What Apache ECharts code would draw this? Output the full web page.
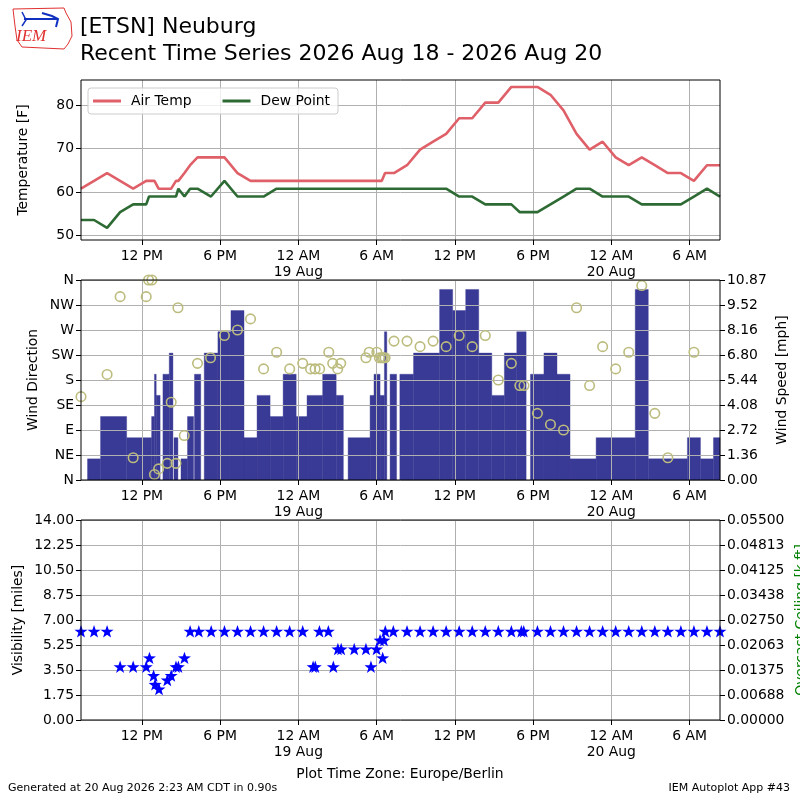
<!DOCTYPE html>
<html><head><meta charset="utf-8">
<script src="https://cdn.jsdelivr.net/npm/echarts@6/dist/echarts.min.js"></script>
<style>html,body{margin:0;padding:0;background:#fff}#c{width:800px;height:800px}</style>
</head><body><div id="c"></div>
<script>
// ---------------- data ----------------
const tempTimes = [
 '2026-08-18 07:20','2026-08-18 08:20','2026-08-18 09:20','2026-08-18 10:20','2026-08-18 11:20','2026-08-18 12:20',
 '2026-08-18 12:33','2026-08-18 12:46','2026-08-18 12:58','2026-08-18 13:17','2026-08-18 13:57','2026-08-18 14:15',
 '2026-08-18 14:37','2026-08-18 14:48','2026-08-18 15:16','2026-08-18 15:42','2026-08-18 16:16','2026-08-18 17:18',
 '2026-08-18 18:20','2026-08-18 19:20','2026-08-18 20:20','2026-08-18 21:20','2026-08-18 22:20','2026-08-18 23:20',
 '2026-08-19 00:20','2026-08-19 00:56','2026-08-19 01:17','2026-08-19 01:38','2026-08-19 02:20','2026-08-19 02:38',
 '2026-08-19 03:01','2026-08-19 03:15','2026-08-19 04:20','2026-08-19 05:11','2026-08-19 05:26','2026-08-19 06:01',
 '2026-08-19 06:13','2026-08-19 06:24','2026-08-19 06:31','2026-08-19 06:39','2026-08-19 07:20','2026-08-19 08:20',
 '2026-08-19 09:20','2026-08-19 10:20','2026-08-19 11:20','2026-08-19 12:20','2026-08-19 13:20','2026-08-19 14:20',
 '2026-08-19 15:20','2026-08-19 16:20','2026-08-19 16:59','2026-08-19 17:18','2026-08-19 18:20','2026-08-19 19:20',
 '2026-08-19 20:20','2026-08-19 21:20','2026-08-19 22:20','2026-08-19 23:20',
 '2026-08-20 00:20','2026-08-20 01:20','2026-08-20 02:20','2026-08-20 03:20','2026-08-20 04:20','2026-08-20 05:20',
 '2026-08-20 06:20','2026-08-20 07:20','2026-08-20 08:20'
];
const airTemp = [
 60.8,62.6,64.4,62.6,60.8,62.6, 62.6,62.6,62.6,60.8,60.8,60.8, 62.6,62.6,64.4,66.2,68.0,68.0,
 68.0,64.4,62.6,62.6,62.6,62.6,
 62.6,62.6,62.6,62.6,62.6,62.6, 62.6,62.6,62.6,62.6,62.6,62.6, 62.6,62.6,62.6,64.4,64.4,66.2,
 69.8,71.6,73.4,77.0,77.0,80.6, 80.6,84.2,84.2,84.2,84.2,82.4, 78.8,73.4,69.8,71.6,
 68.0,66.2,68.0,66.2,64.4,64.4, 62.6,66.2,66.2
];
const dewPoint = [
 53.6,53.6,51.8,55.4,57.2,57.2, 59.0,59.0,59.0,59.0,59.0,59.0, 59.0,60.8,59.0,60.8,60.8,59.0,
 62.6,59.0,59.0,59.0,60.8,60.8,
 60.8,60.8,60.8,60.8,60.8,60.8, 60.8,60.8,60.8,60.8,60.8,60.8, 60.8,60.8,60.8,60.8,60.8,60.8,
 60.8,60.8,60.8,59.0,59.0,57.2, 57.2,57.2,55.4,55.4,55.4,57.2, 59.0,60.8,60.8,59.0,
 59.0,59.0,57.2,57.2,57.2,57.2, 59.0,60.8,59.0
];
// wind speed [mph]: each value holds from its time until the next listed time
const windStepTimes = [
 '2026-08-18 07:20','2026-08-18 07:50','2026-08-18 08:50','2026-08-18 10:50','2026-08-18 12:45','2026-08-18 12:58',
 '2026-08-18 13:06','2026-08-18 13:24','2026-08-18 13:37','2026-08-18 14:06','2026-08-18 14:23','2026-08-18 14:28',
 '2026-08-18 14:46','2026-08-18 15:00','2026-08-18 15:30','2026-08-18 15:58','2026-08-18 16:02','2026-08-18 16:31',
 '2026-08-18 16:47','2026-08-18 17:50','2026-08-18 18:50','2026-08-18 19:50','2026-08-18 20:50','2026-08-18 21:50',
 '2026-08-18 22:50','2026-08-18 23:50',
 '2026-08-19 00:40','2026-08-19 01:52','2026-08-19 02:54','2026-08-19 03:27','2026-08-19 03:49','2026-08-19 05:30',
 '2026-08-19 05:48','2026-08-19 06:16','2026-08-19 06:36','2026-08-19 06:47','2026-08-19 07:02','2026-08-19 07:32',
 '2026-08-19 07:47','2026-08-19 08:50','2026-08-19 10:50','2026-08-19 11:50','2026-08-19 12:50','2026-08-19 13:50',
 '2026-08-19 14:50','2026-08-19 15:48','2026-08-19 16:45','2026-08-19 17:28','2026-08-19 17:48','2026-08-19 18:50',
 '2026-08-19 19:50','2026-08-19 20:50','2026-08-19 22:50',
 '2026-08-20 01:50','2026-08-20 02:50','2026-08-20 05:50','2026-08-20 06:50','2026-08-20 07:50','2026-08-20 08:50'
];
const windSpeedMph = [
 0,1.15,3.45,2.30,3.45,5.75, 4.60,0,5.75,6.90,0,2.30, 0,1.15,3.45,0,5.75,0,
 6.90,8.06,9.21,2.30,4.60,3.45, 5.75,3.45,
 4.60,5.75,4.60,0,2.30,4.60, 5.75,4.60,8.06,0,5.75,0, 5.75,6.90,10.36,9.21,10.36,6.90,
 4.60,6.90,8.06,0,5.75,6.90, 5.75,1.15,2.30,
 10.36,1.15,2.30,1.15,2.30,null
];
const dirTimes = [
 '2026-08-18 07:20','2026-08-18 09:20','2026-08-18 10:20','2026-08-18 11:20','2026-08-18 12:20','2026-08-18 12:31',
 '2026-08-18 12:46','2026-08-18 12:58','2026-08-18 13:17','2026-08-18 13:57','2026-08-18 14:15','2026-08-18 14:37',
 '2026-08-18 14:46','2026-08-18 15:15','2026-08-18 16:16','2026-08-18 17:16','2026-08-18 18:20','2026-08-18 19:20',
 '2026-08-18 20:20','2026-08-18 21:20','2026-08-18 22:20','2026-08-18 23:20',
 '2026-08-19 00:20','2026-08-19 00:56','2026-08-19 01:17','2026-08-19 01:38','2026-08-19 02:20','2026-08-19 02:38',
 '2026-08-19 03:01','2026-08-19 03:15','2026-08-19 05:11','2026-08-19 05:26','2026-08-19 06:01','2026-08-19 06:13',
 '2026-08-19 06:24','2026-08-19 06:31','2026-08-19 06:39','2026-08-19 07:20','2026-08-19 08:20','2026-08-19 09:20',
 '2026-08-19 10:20','2026-08-19 11:20','2026-08-19 12:20','2026-08-19 13:20','2026-08-19 14:20','2026-08-19 15:20',
 '2026-08-19 16:20','2026-08-19 16:59','2026-08-19 17:18','2026-08-19 18:20','2026-08-19 19:20','2026-08-19 20:20',
 '2026-08-19 21:20','2026-08-19 22:20','2026-08-19 23:20',
 '2026-08-20 00:20','2026-08-20 01:20','2026-08-20 02:20','2026-08-20 03:20','2026-08-20 04:20','2026-08-20 06:20'
];
const windDir = [
 150,190,330,40,330,360, 360,10,20,30,140,30, 310,80,210,220,260,270, 290,200,230,200,
 210,200,200,200,230,210, 200,210,220,230,230,220, 220,220,220,250,250,240,
 250,240,260,240,260,180, 210,170,170,120,100,90, 310,170,240,
 200,230,350,120,40,230
];
const visTimes = [
 '2026-08-18 07:20','2026-08-18 08:20','2026-08-18 09:20','2026-08-18 10:20','2026-08-18 11:20','2026-08-18 12:20',
 '2026-08-18 12:35','2026-08-18 12:54','2026-08-18 13:01','2026-08-18 13:19','2026-08-18 13:57','2026-08-18 14:15',
 '2026-08-18 14:37','2026-08-18 14:48','2026-08-18 15:16','2026-08-18 15:42','2026-08-18 16:22','2026-08-18 17:19',
 '2026-08-18 18:20','2026-08-18 19:20','2026-08-18 20:20','2026-08-18 21:20','2026-08-18 22:20','2026-08-18 23:20',
 '2026-08-19 00:20','2026-08-19 01:08','2026-08-19 01:18','2026-08-19 01:37','2026-08-19 02:18','2026-08-19 02:41',
 '2026-08-19 03:02','2026-08-19 03:17','2026-08-19 04:17','2026-08-19 05:11','2026-08-19 05:34','2026-08-19 06:00',
 '2026-08-19 06:16','2026-08-19 06:28','2026-08-19 06:34','2026-08-19 06:40','2026-08-19 07:17','2026-08-19 08:20',
 '2026-08-19 09:20','2026-08-19 10:20','2026-08-19 11:20','2026-08-19 12:20','2026-08-19 13:20','2026-08-19 14:20',
 '2026-08-19 15:20','2026-08-19 16:20','2026-08-19 17:06','2026-08-19 17:17','2026-08-19 18:20','2026-08-19 19:20',
 '2026-08-19 20:20','2026-08-19 21:20','2026-08-19 22:20','2026-08-19 23:20',
 '2026-08-20 00:20','2026-08-20 01:20','2026-08-20 02:20','2026-08-20 03:20','2026-08-20 04:20','2026-08-20 05:20',
 '2026-08-20 06:20','2026-08-20 07:20','2026-08-20 08:20'
];
const visibility = [
 6.21,6.21,6.21,3.73,3.73,3.73, 4.35,3.11,2.49,2.17,2.80,3.11, 3.73,3.73,4.35,6.21,6.21,6.21,
 6.21,6.21,6.21,6.21,6.21,6.21,
 6.21,3.73,3.73,6.21,6.21,3.73, 4.97,4.97,4.97,4.97,3.73,4.97, 5.59,4.35,5.59,6.21,6.21,6.21,
 6.21,6.21,6.21,6.21,6.21,6.21, 6.21,6.21,6.21,6.21,6.21,6.21, 6.21,6.21,6.21,6.21,
 6.21,6.21,6.21,6.21,6.21,6.21, 6.21,6.21,6.21
];
const xRange = ['2026-08-18 07:20','2026-08-20 08:20'];
const xTickTimes = ['2026-08-18 12:00','2026-08-18 18:00','2026-08-19 00:00','2026-08-19 06:00',
                    '2026-08-19 12:00','2026-08-19 18:00','2026-08-20 00:00','2026-08-20 06:00'];
const xTickLabels = ['12 PM','6 PM','12 AM\n19 Aug','6 AM','12 PM','6 PM','12 AM\n20 Aug','6 AM'];
const tempRange = [49.0, 85.8];
const tempTicks = [50,60,70,80];
const dirTicks = [0,45,90,135,180,225,270,315,360];
const dirLabels = ['N','NE','E','SE','S','SW','W','NW','N'];
const windMax = 10.8749;
const windLabels = ['0.00','1.36','2.72','4.08','5.44','6.80','8.16','9.52','10.87'];
const visTicks = [0,1.75,3.5,5.25,7,8.75,10.5,12.25,14];
const visLabels = ['0.00','1.75','3.50','5.25','7.00','8.75','10.50','12.25','14.00'];
const ceilMax = 0.055;
const ceilLabels = ['0.00000','0.00688','0.01375','0.02063','0.02750','0.03438','0.04125','0.04813','0.05500'];

// ---------------- helpers ----------------
function T(s){const m=s.match(/(\d+)-(\d+)-(\d+) (\d+):(\d+)/);return Date.UTC(+m[1],+m[2]-1,+m[3],+m[4],+m[5]);}
const xMin=T(xRange[0]), xMax=T(xRange[1]);
const xTicks=xTickTimes.map(T);
const windTicks=windLabels.map((_,i)=>windMax*i/8);
const ceilTicks=ceilLabels.map((_,i)=>ceilMax*i/8);
const FONT='DejaVu Sans';
const FS=13.9;
const RED='#df6068', GREEN='#2e6b34', BAR='#393996', OLIVE='#bcbc7e';

function xAxisFor(gi,extra){
  return Object.assign({type:'value',gridIndex:gi,min:xMin,max:xMax,
    axisLine:{show:false},
    axisTick:{show:true,inside:false,length:5,customValues:xTicks,lineStyle:{color:'#000',width:1}},
    axisLabel:{customValues:xTicks,color:'#000',fontFamily:FONT,fontSize:FS,lineHeight:16,margin:8,
      formatter:v=>{const i=xTicks.indexOf(v);return i>=0?xTickLabels[i]:'';}},
    splitLine:{show:true,lineStyle:{color:'#b0b0b0',width:1}}},extra||{});
}
function yAxisFor(gi,pos,min,max,ticks,labels,name,nameGap,extra){
  return Object.assign({type:'value',gridIndex:gi,position:pos,min:min,max:max,
    name:name,nameLocation:'middle',nameGap:nameGap,nameRotate:90,nameMoveOverlap:false,
    nameTextStyle:{fontFamily:FONT,fontSize:FS,color:'#000'},
    axisLine:{show:false},
    axisTick:{show:true,inside:false,length:5,customValues:ticks,lineStyle:{color:'#000',width:1}},
    axisLabel:{customValues:ticks,color:'#000',fontFamily:FONT,fontSize:FS,margin:7,
      formatter:v=>{let i=-1;ticks.forEach((t,k)=>{if(Math.abs(t-v)<1e-9*Math.max(1,Math.abs(t))+1e-12)i=k;});return i>=0?labels[i]:'';}},
    splitLine:{show:pos==='left',lineStyle:{color:'#b0b0b0',width:1}}},extra||{});
}

const tempData=tempTimes.map((t,i)=>[T(t),airTemp[i]]);
const dewData=tempTimes.map((t,i)=>[T(t),dewPoint[i]]);
const windBars=[];
for(let i=0;i<windStepTimes.length-1;i++){
  windBars.push([T(windStepTimes[i]),T(windStepTimes[i+1]),windSpeedMph[i]]);
}
const dirData=dirTimes.map((t,i)=>[T(t),windDir[i]]);
const visData=visTimes.map((t,i)=>[T(t),visibility[i]]);

const STAR='path://M0,-10L2.351,-3.236L9.511,-3.09L3.804,1.236L5.878,8.09L0,4L-5.878,8.09L-3.804,1.236L-9.511,-3.09L-2.351,-3.236Z';

const grids=[
  {left:81,right:80,top:80,height:160},
  {left:81,right:80,top:280,height:200},
  {left:81,right:80,top:520,height:200}
].map(g=>Object.assign(g,{show:true,borderColor:'#000',borderWidth:1,backgroundColor:'transparent',z:5}));

const chart=echarts.init(document.getElementById('c'),null,{renderer:'canvas'});
chart.setOption({
  animation:false,
  backgroundColor:'#fff',
  textStyle:{fontFamily:FONT},
  grid:grids,
  legend:{show:true,left:88,top:88,orient:'horizontal',z:6,
    data:['Air Temp','Dew Point'],icon:'rect',itemWidth:28,itemHeight:3,itemGap:31,
    padding:[6,8,6,5],borderColor:'#cccccc',borderWidth:1,borderRadius:3,backgroundColor:'rgba(255,255,255,0.8)',
    textStyle:{fontFamily:FONT,fontSize:FS,color:'#000',padding:[0,0,0,5]}},
  xAxis:[xAxisFor(0),xAxisFor(1,{z:3}),xAxisFor(2)],
  yAxis:[
    yAxisFor(0,'left',tempRange[0],tempRange[1],tempTicks,tempTicks.map(String),'Temperature [F]',51),
    yAxisFor(1,'left',0,360,dirTicks,dirLabels,'Wind Direction',41,{z:3}),
    yAxisFor(1,'right',0,windMax,windTicks,windLabels,'Wind Speed [mph]',55,{z:3}),
    yAxisFor(2,'left',0,14,visTicks,visLabels,'Visibility [miles]',56),
    yAxisFor(2,'right',0,ceilMax,ceilTicks,ceilLabels,'',73)
  ],
  series:[
    {name:'Air Temp',type:'line',xAxisIndex:0,yAxisIndex:0,data:tempData,showSymbol:false,symbol:'none',
     lineStyle:{color:RED,width:2.6},itemStyle:{color:RED},clip:true,z:3},
    {name:'Dew Point',type:'line',xAxisIndex:0,yAxisIndex:0,data:dewData,showSymbol:false,symbol:'none',
     lineStyle:{color:GREEN,width:2.6},itemStyle:{color:GREEN},clip:true,z:3},
    {name:'Wind Speed',type:'custom',xAxisIndex:1,yAxisIndex:2,data:windBars,encode:{x:[0,1],y:2},z:2,
     renderItem:function(params,api){
       const v=api.value(2);
       if(!v) return null;
       const p0=api.coord([api.value(0),v]);
       const p1=api.coord([api.value(1),0]);
       const cs=params.coordSys;
       const r=echarts.graphic.clipRectByRect({x:p0[0],y:p0[1],width:p1[0]-p0[0],height:p1[1]-p0[1]},
         {x:cs.x,y:cs.y,width:cs.width,height:cs.height});
       if(!r) return null;
       return {type:'rect',shape:r,style:{fill:BAR,stroke:BAR,lineWidth:0.4}};
     }},
    {name:'Wind Direction',type:'scatter',xAxisIndex:1,yAxisIndex:1,data:dirData,symbol:'circle',symbolSize:9.5,
     itemStyle:{color:'rgba(0,0,0,0)',borderColor:OLIVE,borderWidth:1.6,opacity:1},z:4},
    {name:'Visibility',type:'scatter',xAxisIndex:2,yAxisIndex:3,data:visData,symbol:STAR,symbolSize:13,symbolKeepAspect:true,
     itemStyle:{color:'#0000ff',opacity:1},z:4}
  ],
  graphic:[
    {type:'polygon',shape:{points:[[13,9],[64,8],[66,13],[71,22],[72,36],[68,44],[64,49],[22,47],[17,40],[15,26]]},
     style:{fill:'none',stroke:'#e03030',lineWidth:1}},
    {type:'polyline',shape:{points:[[24,19],[58,19]]},style:{stroke:'#1030c0',lineWidth:2}},
    {type:'polyline',shape:{points:[[22,12],[26,20],[22,26]]},style:{stroke:'#1030c0',lineWidth:1.5,fill:'none'}},
    {type:'polyline',shape:{points:[[42,13],[52,16],[58,19],[56,27]]},style:{stroke:'#1030c0',lineWidth:2,fill:'none'}},
    {type:'text',left:16,top:28,style:{text:'IEM',fill:'#e03030',font:'italic 17px "Liberation Serif"'}},
    {type:'text',left:80,top:16,style:{text:'[ETSN] Neuburg',fill:'#000',font:'22px "DejaVu Sans"'}},
    {type:'text',left:80,top:43,style:{text:'Recent Time Series 2026 Aug 18 - 2026 Aug 20',fill:'#000',font:'22px "DejaVu Sans"'}},
    {type:'text',x:801,y:620,rotation:Math.PI/2,
     style:{text:'Overcast Ceiling [k ft]',fill:'#008000',font:FS+'px "DejaVu Sans"',align:'center',verticalAlign:'middle'}},
    {type:'text',left:'center',top:767,style:{text:'Plot Time Zone: Europe/Berlin',fill:'#000',font:FS+'px "DejaVu Sans"'}},
    {type:'text',left:8,top:783,style:{text:'Generated at 20 Aug 2026 2:23 AM CDT in 0.90s',fill:'#000',font:'11px "DejaVu Sans"'}},
    {type:'text',right:10,top:783,style:{text:'IEM Autoplot App #43',fill:'#000',font:'11px "DejaVu Sans"'}}
  ]
});
</script></body></html>
